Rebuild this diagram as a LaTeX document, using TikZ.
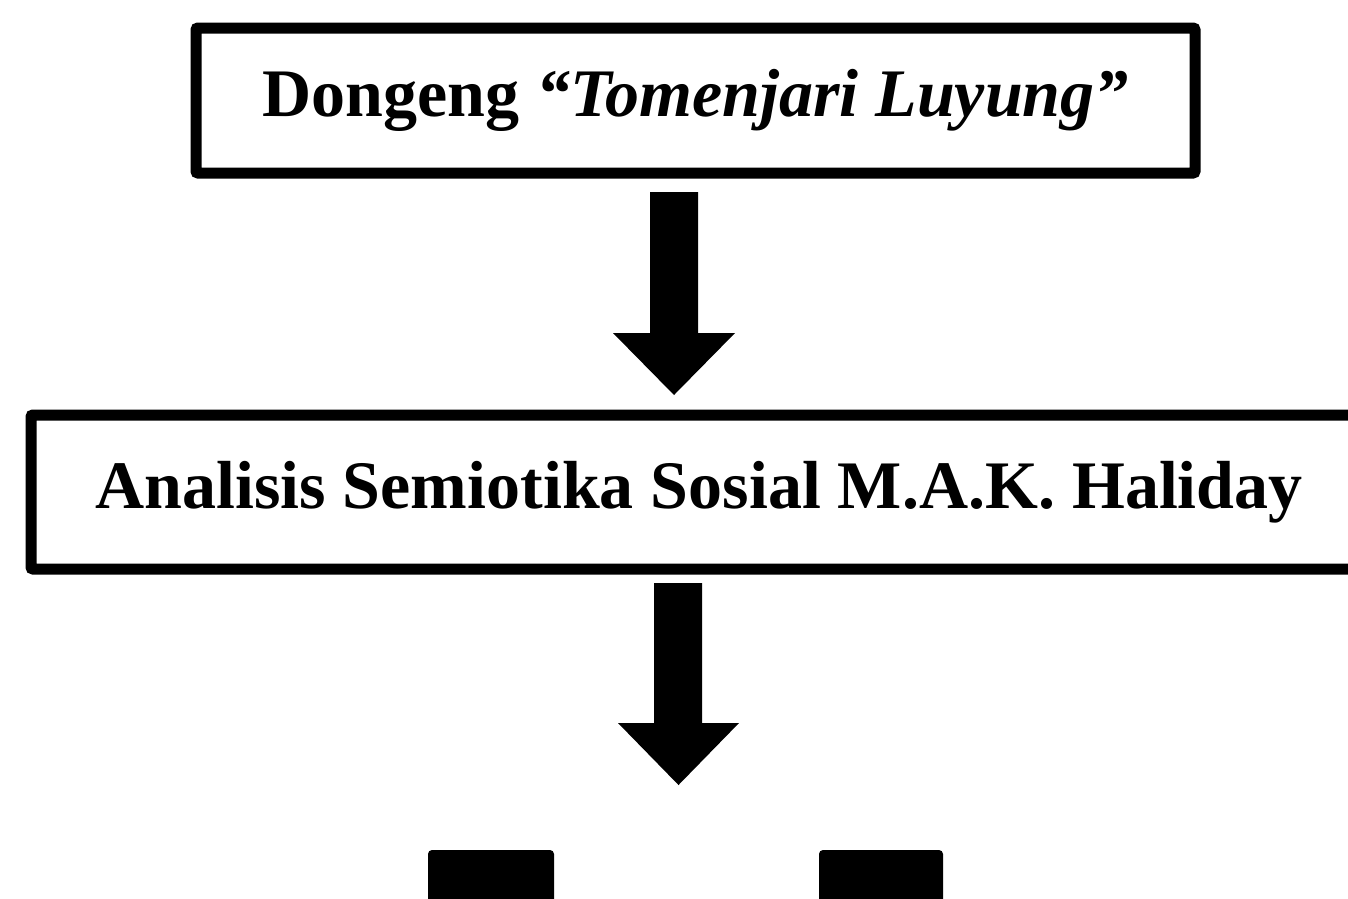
\documentclass[tikz,border=0pt]{standalone}
\usepackage{fontspec}
\setmainfont{Liberation Serif}
\begin{document}
\begin{tikzpicture}[x=1pt,y=-1pt,
  framebox/.style={draw=black,line width=11pt,rounded corners=2pt,inner sep=0pt,
    font=\fontsize{68}{80}\selectfont\bfseries},
  blockarrow/.style={fill=black},
  blockbox/.style={fill=black,rounded corners=4pt}]
\useasboundingbox (0,0) rectangle (1348,898);
\clip (0,0) rectangle (1348,898);
\node[framebox,minimum width=999pt,minimum height=145pt] (top) at (695.5,100.5)
  {Dongeng {\itshape “Tomenjari Luyung”}};
\node[framebox,minimum width=1336pt,minimum height=154pt] (mid) at (699,492)
  {Analisis Semiotika Sosial M.A.K. Haliday};
% block arrows
\fill[blockarrow] (650,192) -- (698,192) -- (698,333) -- (735,333) -- (674,395)
  -- (613,333) -- (650,333) -- cycle;
\fill[blockarrow] (654,583) -- (702,583) -- (702,723) -- (739,723) -- (678.5,785)
  -- (618,723) -- (654,723) -- cycle;
% partial boxes at the bottom
\fill[blockbox] (428,910) rectangle (554,850);
\fill[blockbox] (819,910) rectangle (943,850);
\end{tikzpicture}
\end{document}
